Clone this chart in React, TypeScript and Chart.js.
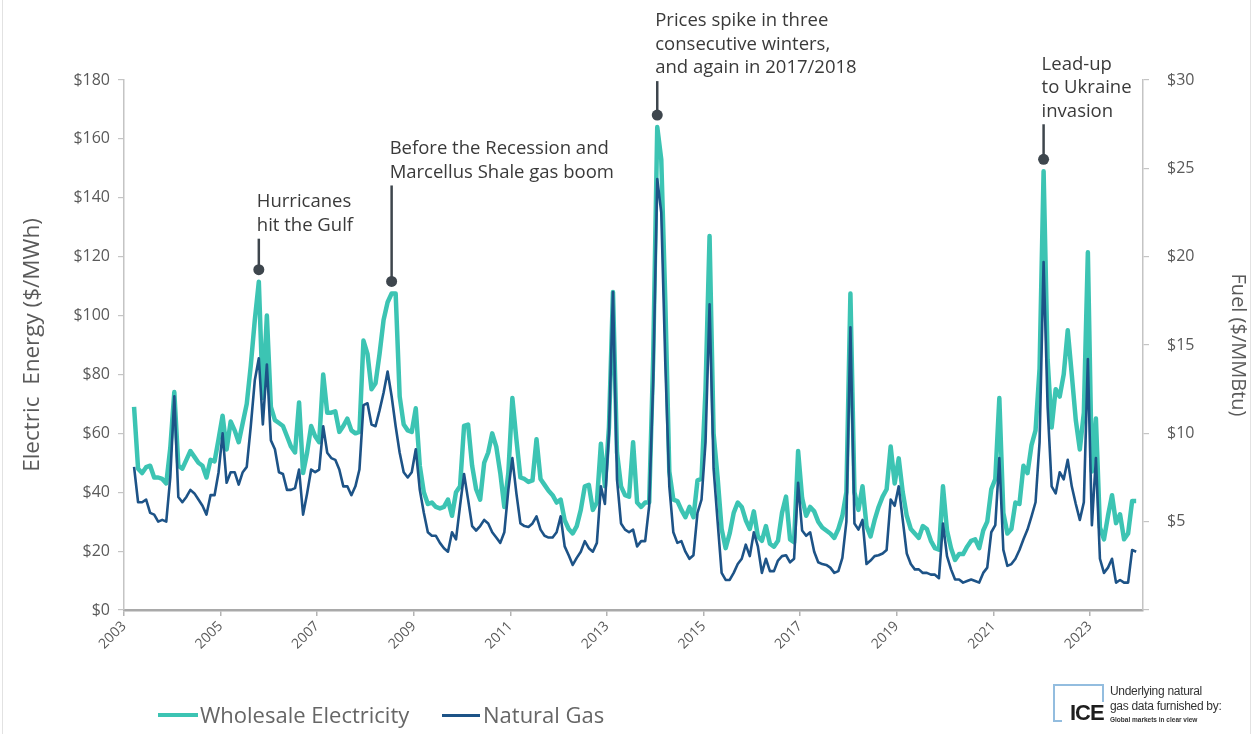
import React, { useEffect, useRef } from 'react';
import { Chart, registerables } from 'chart.js';

Chart.register(...registerables);

// ---------- data ----------
const START_YEAR = 2003;
const START_MONTH = 3; // first monthly value = March 2003

// Wholesale electricity, $/MWh, monthly Mar 2003 .. Dec 2023
const ELECTRICITY: number[] = [
  // 2003 (Mar-Dec)
  69, 48, 46.5, 48.5, 49, 45, 45, 44.5, 43, 55,
  // 2004
  74, 49, 48, 51, 54, 52, 50, 49, 45, 51, 50.5, 58,
  // 2005
  66, 54.5, 64, 61, 57, 63.5, 70, 83, 98.5, 111.5, 72, 100,
  // 2006
  69, 64.5, 63.5, 62.5, 59, 55.5, 53.5, 70.5, 46.5, 53.5, 62.5, 59,
  // 2007
  57, 80, 67, 67, 67.5, 60.5, 62.5, 65, 61, 60, 60.5, 91.5,
  // 2008
  87, 75, 77, 87, 98.5, 104.5, 107.5, 107.5, 72.5, 63, 61, 60.5,
  // 2009
  68.5, 49, 40, 36, 36.5, 35, 34.5, 35, 37.5, 32, 40, 42,
  // 2010
  62.5, 63, 49, 41, 37.5, 50, 53.5, 60, 55.5, 46.5, 35, 46.5,
  // 2011
  72, 58, 45, 44.5, 43.5, 44, 58, 44.5, 42.5, 40.5, 39, 36.5,
  // 2012
  37.5, 30.5, 27.5, 26, 28.5, 34, 42, 42.5, 34, 36.5, 56.5, 42,
  // 2013
  62, 108, 53.5, 42, 39, 38.5, 57, 36.5, 35, 36.5, 36.5, 86,
  // 2014
  164, 153, 105, 47, 37.5, 37, 34, 31.5, 35, 31.5, 44, 44.5,
  // 2015
  75, 127, 60, 45, 27.5, 21, 26, 33, 36.5, 35, 30.5, 27.5,
  // 2016
  33.5, 25, 23.5, 28.5, 22.5, 21.5, 23.5, 33, 38.5, 24, 23, 54,
  // 2017
  38, 32, 35, 33.5, 30, 28, 27, 26, 24.5, 27.5, 32, 40,
  // 2018
  107.5, 40, 34, 42, 28.5, 25, 30.5, 35, 38.5, 41, 55.5, 43,
  // 2019
  51.5, 40, 32, 27.5, 26, 24.5, 28.5, 27.5, 23.5, 21, 20.5, 42,
  // 2020
  27, 21, 17, 19, 19, 21.5, 23.5, 24, 21, 27, 30, 41,
  // 2021
  44.5, 72, 33, 26, 27.5, 36.5, 36, 49, 46.5, 56, 61, 82,
  // 2022
  149, 85, 62, 75, 72.5, 80, 95, 80, 64.5, 54.5, 67, 121.5,
  // 2023
  47, 65, 28, 24, 32, 39, 29.5, 32.5, 24, 26, 37, 37,
];

// Natural gas, $/MMBtu, same months
const NATURAL_GAS: number[] = [
  // 2003 (Mar-Dec)
  8.1, 6.1, 6.1, 6.25, 5.5, 5.4, 5.0, 5.1, 5.0, 7.5,
  // 2004
  12.1, 6.4, 6.1, 6.4, 6.8, 6.6, 6.25, 5.9, 5.4, 6.5, 6.5, 7.8,
  // 2005
  10.0, 7.2, 7.8, 7.8, 7.1, 7.8, 8.1, 10.4, 13.0, 14.25, 10.5, 13.9,
  // 2006
  9.6, 9.1, 7.8, 7.7, 6.8, 6.8, 6.9, 7.95, 5.4, 6.6, 7.95, 7.8,
  // 2007
  7.95, 10.4, 8.9, 8.6, 8.5, 7.95, 7.0, 7.0, 6.5, 7.0, 7.95, 11.6,
  // 2008
  11.7, 10.5, 10.4, 11.3, 12.3, 13.5, 12.1, 10.4, 8.9, 7.8, 7.5, 7.8,
  // 2009
  9.1, 6.8, 5.5, 4.4, 4.2, 4.2, 3.8, 3.5, 3.3, 4.4, 4.0, 5.9,
  // 2010
  7.7, 6.25, 4.75, 4.5, 4.75, 5.1, 4.9, 4.4, 4.1, 3.8, 4.4, 6.8,
  // 2011
  8.6, 6.6, 4.9, 4.75, 4.7, 4.9, 5.3, 4.55, 4.2, 4.1, 4.1, 4.4,
  // 2012
  5.3, 3.6, 3.1, 2.55, 2.95, 3.3, 3.9, 3.5, 3.3, 3.8, 7.0, 6.0,
  // 2013
  10, 18, 7.4, 4.9, 4.55, 4.4, 4.55, 3.6, 3.9, 3.9, 5.9, 13,
  // 2014
  24.4, 22.5, 14, 7, 4.4, 3.8, 3.9, 3.3, 2.9, 3.1, 5.5, 6.25,
  // 2015
  9.5, 17.3, 8, 5.0, 2.1, 1.7, 1.7, 2.1, 2.6, 2.9, 3.7, 3.05,
  // 2016
  4.4, 3.6, 2.1, 2.9, 2.2, 2.2, 2.8, 3.05, 3.1, 2.7, 2.9, 7.2,
  // 2017
  4.5, 4.2, 4.4, 3.3, 2.7, 2.6, 2.55, 2.4, 2.1, 2.2, 2.95, 5.0,
  // 2018
  16, 4.9, 4.55, 5.1, 2.6, 2.8, 3.05, 3.1, 3.2, 3.4, 6.25, 5.9,
  // 2019
  7.0, 5.1, 3.2, 2.6, 2.3, 2.3, 2.1, 2.1, 2.0, 2.0, 1.8, 4.9,
  // 2020
  3.05, 2.3, 1.73, 1.73, 1.55, 1.64, 1.73, 1.64, 1.55, 2.1, 2.4, 4.4,
  // 2021
  4.8, 8.6, 3.4, 2.5, 2.6, 2.9, 3.4, 4.0, 4.55, 5.3, 6.1, 9.5,
  // 2022
  19.7, 11.5, 7.0, 6.6, 7.8, 7.4, 8.5, 7.0, 6.0, 5.1, 6.1, 14.2,
  // 2023
  4.8, 8.6, 2.9, 2.1, 2.4, 2.9, 1.55, 1.7, 1.55, 1.55, 3.4, 3.3,
];

const YEAR_TICKS = [2003, 2005, 2007, 2009, 2011, 2013, 2015, 2017, 2019, 2021, 2023];
const SERIES_LABELS = ['Wholesale Electricity', 'Natural Gas'];
const ELECTRIC_AXIS = { min: 0, max: 180, step: 20, title: 'Electric  Energy ($/MWh)' };
const FUEL_AXIS = { min: 0, max: 30, step: 5, title: 'Fuel ($/MMBtu)' };

const NOTES = [
  { index: 31, lines: ['Hurricanes', 'hit the Gulf'], stem: 31 },
  { index: 64, lines: ['Before the Recession and', 'Marcellus Shale gas boom'], stem: 96 },
  { index: 130, lines: ['Prices spike in three', 'consecutive winters,', 'and again in 2017/2018'], stem: 34 },
  { index: 226, lines: ['Lead-up', 'to Ukraine', 'invasion'], stem: 35 },
];

// ---------- styles ----------
const TEAL = '#3cc4b3';
const NAVY = '#1d5387';
const NOTE_COLOR = '#3e464d';
const TICK_COLOR = '#5a5a5a';
const FONT = "'Open Sans', 'DejaVu Sans', sans-serif";

const monthX = (i: number) => START_YEAR + (START_MONTH - 1 + i + 0.5) / 12;

const notesPlugin = {
  id: 'peakNotes',
  afterDatasetsDraw(chart: any) {
    const { ctx, scales } = chart;
    ctx.save();
    for (const n of NOTES) {
      const px = scales.x.getPixelForValue(monthX(n.index));
      const py = scales.y.getPixelForValue(ELECTRICITY[n.index]) - 12;
      const top = py - n.stem;
      ctx.strokeStyle = NOTE_COLOR;
      ctx.lineWidth = 2.5;
      ctx.beginPath();
      ctx.moveTo(px, top);
      ctx.lineTo(px, py);
      ctx.stroke();
      ctx.fillStyle = NOTE_COLOR;
      ctx.beginPath();
      ctx.arc(px, py, 5.5, 0, Math.PI * 2);
      ctx.fill();
      ctx.font = `18.5px ${FONT}`;
      ctx.fillStyle = '#3a3a3a';
      ctx.textAlign = 'left';
      ctx.textBaseline = 'middle';
      const lastY = top - 13;
      n.lines.forEach((t, k) => {
        ctx.fillText(t, px - 2, lastY - (n.lines.length - 1 - k) * 23.5);
      });
    }
    ctx.restore();
  },
};

export default function App() {
  const canvasRef = useRef<HTMLCanvasElement | null>(null);

  useEffect(() => {
    if (!canvasRef.current) return;
    Chart.defaults.font.family = FONT;
    const chart = new Chart(canvasRef.current, {
      type: 'line',
      data: {
        datasets: [
          {
            label: SERIES_LABELS[0],
            data: ELECTRICITY.map((v, i) => ({ x: monthX(i), y: v })),
            borderColor: TEAL,
            backgroundColor: TEAL,
            borderWidth: 4.5,
            pointRadius: 0,
            tension: 0,
            borderJoinStyle: 'round',
            yAxisID: 'y',
            order: 2,
          },
          {
            label: SERIES_LABELS[1],
            data: NATURAL_GAS.map((v, i) => ({ x: monthX(i), y: v })),
            borderColor: NAVY,
            backgroundColor: NAVY,
            borderWidth: 2.6,
            pointRadius: 0,
            tension: 0,
            borderJoinStyle: 'round',
            yAxisID: 'y2',
            order: 1,
          },
        ],
      },
      options: {
        responsive: false,
        animation: false,
        events: [],
        layout: { padding: { top: 80, left: 0, right: 0, bottom: 0 } },
        plugins: { legend: { display: false }, tooltip: { enabled: false } },
        scales: {
          x: {
            type: 'linear',
            min: 2003,
            max: 2024.1,
            afterBuildTicks: (s: any) => {
              s.ticks = YEAR_TICKS.map((v) => ({ value: v }));
            },
            afterFit: (s: any) => {
              s.height = 124;
            },
            ticks: {
              autoSkip: false,
              minRotation: 45,
              maxRotation: 45,
              padding: 2,
              color: TICK_COLOR,
              font: { size: 14 },
              callback: (v: any) => String(v),
            },
            grid: { drawOnChartArea: false, drawTicks: true, tickLength: 6, color: '#b4b4b4', lineWidth: 1.5 },
            border: { display: true, color: '#a9a9a9', width: 2.5 },
          },
          y: {
            position: 'left',
            min: ELECTRIC_AXIS.min,
            max: ELECTRIC_AXIS.max,
            afterFit: (s: any) => {
              s.width = 124;
            },
            ticks: {
              stepSize: ELECTRIC_AXIS.step,
              padding: 8,
              color: TICK_COLOR,
              font: { size: 16 },
              callback: (v: any) => '$' + v,
            },
            grid: { drawOnChartArea: false, drawTicks: true, tickLength: 6, color: '#c4c4c4', lineWidth: 1.2 },
            border: { display: true, color: '#c4c4c4', width: 1.5 },
            title: {
              display: true,
              text: ELECTRIC_AXIS.title,
              color: TICK_COLOR,
              font: { size: 22.5 },
              padding: { top: 19, bottom: 0 },
            },
          },
          y2: {
            position: 'right',
            min: FUEL_AXIS.min,
            max: FUEL_AXIS.max,
            afterFit: (s: any) => {
              s.width = 114;
            },
            ticks: {
              stepSize: FUEL_AXIS.step,
              padding: 18,
              color: TICK_COLOR,
              font: { size: 16 },
              callback: (v: any) => (v === 0 ? '' : '$' + v),
            },
            grid: { drawOnChartArea: false, drawTicks: true, tickLength: 6, color: '#c4c4c4', lineWidth: 1.2 },
            border: { display: true, color: '#c4c4c4', width: 1.5 },
            title: {
              display: true,
              text: FUEL_AXIS.title,
              color: TICK_COLOR,
              font: { size: 20 },
              padding: { top: 7, bottom: 0 },
            },
          },
        },
      } as any,
      plugins: [notesPlugin],
    });
    return () => chart.destroy();
  }, []);

  const legendText: React.CSSProperties = {
    position: 'absolute',
    top: 699,
    fontFamily: FONT,
    fontSize: 22,
    lineHeight: '30px',
    color: '#666666',
    whiteSpace: 'nowrap',
  };
  const smallText: React.CSSProperties = {
    position: 'absolute',
    left: 1110,
    fontFamily: "'Liberation Sans Narrow', 'Liberation Sans', sans-serif",
    fontSize: 12,
    lineHeight: '14px',
    color: '#333333',
    whiteSpace: 'nowrap',
    letterSpacing: -0.3,
  };

  return (
    <div
      style={{
        position: 'absolute',
        left: 0,
        top: 0,
        width: 1257,
        height: 734,
        overflow: 'hidden',
        background: '#ffffff',
      }}
    >
      <canvas ref={canvasRef} width={1257} height={734} style={{ display: 'block' }} />
      {/* frame */}
      <div style={{ position: 'absolute', left: 2, top: 0, width: 1, height: 734, background: '#e2e2e2' }} />
      <div style={{ position: 'absolute', left: 1250, top: 0, width: 1, height: 734, background: '#e2e2e2' }} />
      {/* legend */}
      <div style={{ position: 'absolute', left: 158, top: 713, width: 40, height: 4, background: TEAL }} />
      <div style={{ ...legendText, left: 200 }}>{SERIES_LABELS[0]}</div>
      <div style={{ position: 'absolute', left: 442, top: 714, width: 38, height: 3, background: NAVY }} />
      <div style={{ ...legendText, left: 483 }}>{SERIES_LABELS[1]}</div>
      {/* ICE credit */}
      <div
        style={{
          position: 'absolute',
          left: 1053,
          top: 684,
          width: 47,
          height: 36,
          borderTop: '2px solid #93bddf',
          borderLeft: '2px solid #93bddf',
          borderRight: '2px solid #93bddf',
        }}
      />
      <div style={{ position: 'absolute', left: 1053, top: 720, width: 9, height: 2, background: '#93bddf' }} />
      <div
        style={{
          position: 'absolute',
          left: 1069,
          top: 702,
          padding: '0 1px',
          background: '#ffffff',
          fontFamily: "'Liberation Sans', Arial, sans-serif",
          fontWeight: 700,
          fontSize: 22,
          lineHeight: '22px',
          color: '#1e1e1e',
          letterSpacing: -1,
        }}
      >
        ICE
      </div>
      <div style={{ ...smallText, top: 684 }}>Underlying natural</div>
      <div style={{ ...smallText, top: 699 }}>gas data furnished by:</div>
      <div style={{ ...smallText, top: 716, fontSize: 6.5, lineHeight: '8px', fontWeight: 700, letterSpacing: 0 }}>
        Global markets in clear view
      </div>
    </div>
  );
}
